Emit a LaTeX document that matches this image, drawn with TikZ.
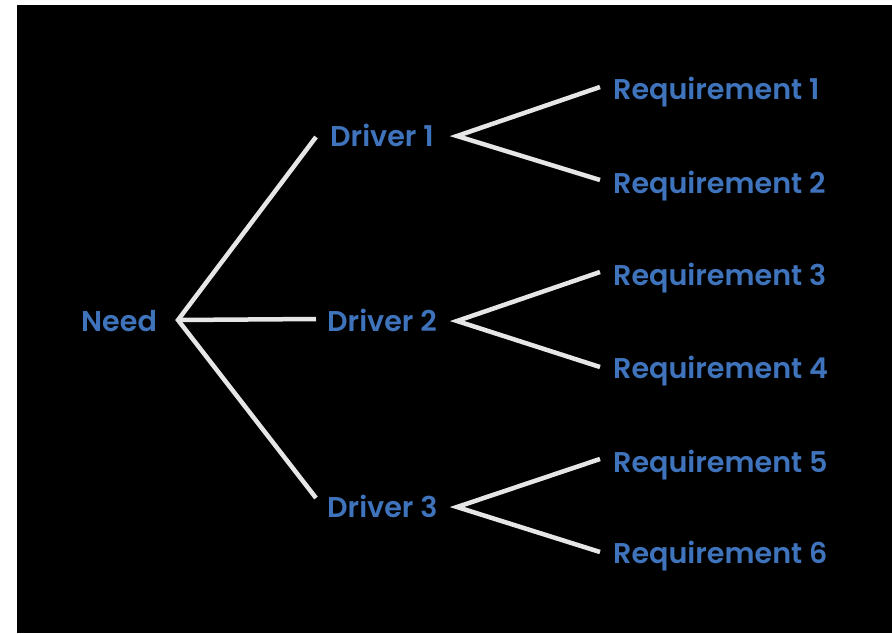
\documentclass[tikz,border=0pt]{standalone}
\usepackage{fontspec}
\setmainfont{Poppins}[BoldFont={Poppins SemiBold}]
\definecolor{txtblue}{HTML}{3F74BC}
\definecolor{linegray}{HTML}{E6E6E6}
\begin{document}
\begin{tikzpicture}[x=1pt,y=-1pt,
  lbl/.style={text=txtblue,font=\fontsize{28.6}{33}\selectfont\bfseries,anchor=base west,inner sep=0pt},
  conn/.style={draw=linegray,line width=4.5pt,line cap=butt,line join=miter}]
\useasboundingbox (0,0) rectangle (892,633);
\fill[white] (0,0) rectangle (892,633);
\fill[black] (17,5) rectangle (892,633);
% labels
\node[lbl] (need) at (81,331) {Need};
\node[lbl] (d1) at (330,146) {Driver 1};
\node[lbl] (d2) at (327,331) {Driver 2};
\node[lbl] (d3) at (327,517) {Driver 3};
\node[lbl] (r1) at (613,99) {Requirement 1};
\node[lbl] (r2) at (613,193) {Requirement 2};
\node[lbl] (r3) at (613,285) {Requirement 3};
\node[lbl] (r4) at (613,378) {Requirement 4};
\node[lbl] (r5) at (613,472) {Requirement 5};
\node[lbl] (r6) at (613,563) {Requirement 6};
% junctions
\coordinate (jn) at (178,320);
\coordinate (e1) at (316,137);
\coordinate (e2) at (316,319);
\coordinate (e3) at (316,498);
\coordinate (j1) at (457,136);
\coordinate (j2) at (457,321);
\coordinate (j3) at (457,507);
\coordinate (a1) at (600,87);
\coordinate (a2) at (600,180);
\coordinate (a3) at (600,272);
\coordinate (a4) at (600,367);
\coordinate (a5) at (600,459);
\coordinate (a6) at (600,552);
% connectors
\draw[conn] (e1) -- (jn) -- (e3);
\draw[conn] (jn) -- (e2);
\draw[conn] (a1) -- (j1) -- (a2);
\draw[conn] (a3) -- (j2) -- (a4);
\draw[conn] (a5) -- (j3) -- (a6);
\end{tikzpicture}
\end{document}
